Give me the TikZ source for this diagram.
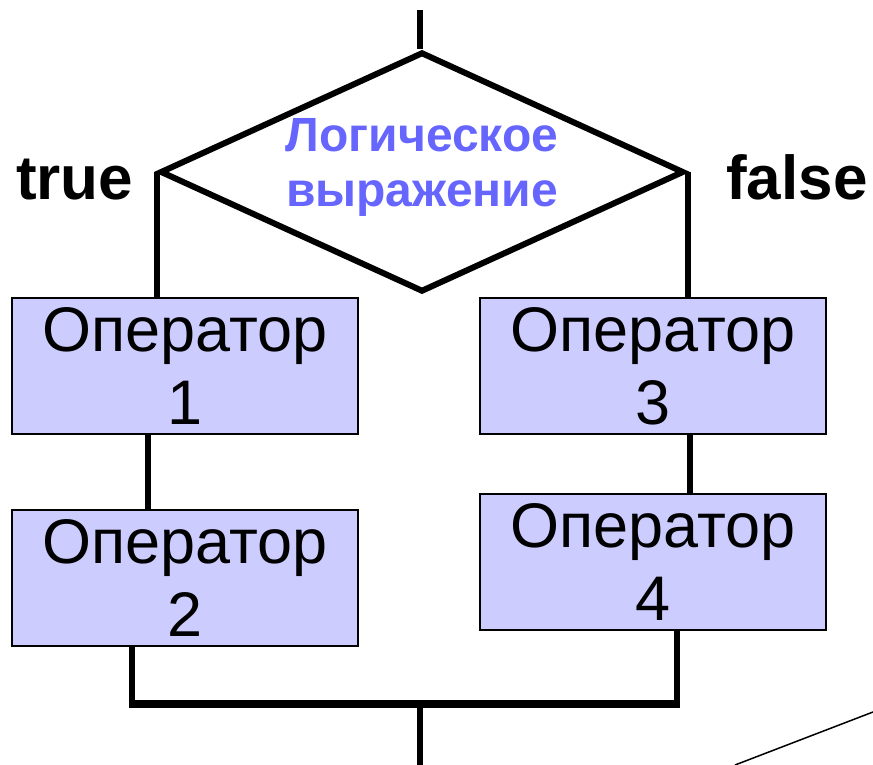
\documentclass[tikz,border=0pt]{standalone}
\usepackage{fontspec}
\setmainfont{Liberation Sans}
\usetikzlibrary{shapes.geometric}
\definecolor{boxfill}{HTML}{CCCCFF}
\definecolor{condtext}{HTML}{6666FF}
\begin{document}
\begin{tikzpicture}[x=1pt,y=-1pt,
  flow/.style={line width=6pt},
  opbox/.style={draw=black,line width=2pt,fill=boxfill,minimum width=346pt,minimum height=136pt,inner sep=0pt,align=center,font=\fontsize{63}{73}\selectfont},
  lbl/.style={font=\fontsize{62}{64}\selectfont\bfseries,inner sep=0pt}]
\useasboundingbox (0,0) rectangle (873,765);
\node[draw=black,line width=6pt,diamond,minimum width=524pt,minimum height=240pt,inner sep=0pt] (d) at (422,172) {};
\node[align=center,text=condtext,font=\fontsize{48}{55}\selectfont\bfseries] (dt) at (422,167) {Логическое\\выражение};
\node[opbox] (b1) at (185,366) {Оператор\\1};
\node[opbox] (b2) at (185,578) {Оператор\\2};
\node[opbox] (b3) at (653,366) {Оператор\\3};
\node[opbox] (b4) at (653,562) {Оператор\\4};
\node[lbl,anchor=base west] (t) at (16,199) {true};
\node[lbl,anchor=base west] (f) at (726,199) {false};
\coordinate (top) at (420,10);
\coordinate (bot) at (420,765);
\coordinate (join) at (420,704);
\coordinate (rtop) at (688,172);
\draw[flow] (top) -- (top |- d.north);
\draw[flow] (d.west) -- (d.west |- b1.north);
\draw[flow] (rtop) -- (rtop |- b3.north);
\draw[flow] (148,434) coordinate (c12) -- (c12 |- b2.north);
\draw[flow] (690,434) coordinate (c34) -- (c34 |- b4.north);
\draw[line width=6pt] (132,646) coordinate (c2) -- (132,704) coordinate (j2);
\draw[line width=6pt] (677,630) coordinate (c4) -- (677,704) coordinate (j4);
\draw[line width=8pt] (129,704) -- (680,704);
\draw[flow] (join) -- (bot);
\coordinate (dg1) at (735,765);
\coordinate (dg2) at (873,712);
\draw[line width=1.5pt] (dg1) -- (dg2);
\end{tikzpicture}
\end{document}
